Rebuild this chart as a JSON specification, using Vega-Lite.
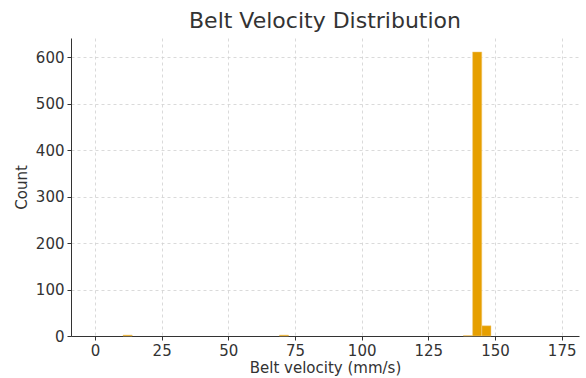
{
  "$schema": "https://vega.github.io/schema/vega-lite/v6.json",
  "width": 508,
  "height": 298,
  "autosize": {"type": "none"},
  "padding": {"left": 71, "top": 38, "right": 7, "bottom": 42},
  "background": "white",
  "title": {
    "text": "Belt Velocity Distribution",
    "font": "DejaVu Sans",
    "fontSize": 22,
    "fontWeight": "normal",
    "color": "#333333",
    "anchor": "middle",
    "offset": 5
  },
  "config": {
    "view": {"stroke": null},
    "axis": {
      "labelFont": "DejaVu Sans",
      "titleFont": "DejaVu Sans",
      "labelFontSize": 15,
      "titleFontSize": 15,
      "titleFontWeight": "normal",
      "labelColor": "#333333",
      "titleColor": "#333333",
      "domainColor": "#333333",
      "tickColor": "#333333",
      "tickSize": 4,
      "grid": true,
      "gridColor": "#d0d0d0",
      "gridDash": [3, 3],
      "gridWidth": 0.8
    }
  },
  "data": {
    "values": [
      {"bin_start": 10.5, "bin_end": 13.95, "count": 2},
      {"bin_start": 69.15, "bin_end": 72.6, "count": 2},
      {"bin_start": 138.15, "bin_end": 141.6, "count": 1},
      {"bin_start": 141.6, "bin_end": 145.05, "count": 611},
      {"bin_start": 145.05, "bin_end": 148.5, "count": 22}
    ]
  },
  "mark": {"type": "rect", "color": "#E69F00", "stroke": "#F3CF85", "strokeWidth": 0.5},
  "encoding": {
    "x": {
      "field": "bin_start",
      "type": "quantitative",
      "scale": {"domain": [-9, 181.5], "nice": false, "zero": false},
      "axis": {"values": [0, 25, 50, 75, 100, 125, 150, 175], "title": "Belt velocity (mm/s)", "titlePadding": 2, "labelPadding": 3}
    },
    "x2": {"field": "bin_end"},
    "y": {
      "field": "count",
      "type": "quantitative",
      "scale": {"domain": [0, 641], "nice": false},
      "axis": {"values": [0, 100, 200, 300, 400, 500, 600], "title": "Count", "titlePadding": 6, "labelPadding": 3}
    },
    "y2": {"datum": 0}
  }
}
